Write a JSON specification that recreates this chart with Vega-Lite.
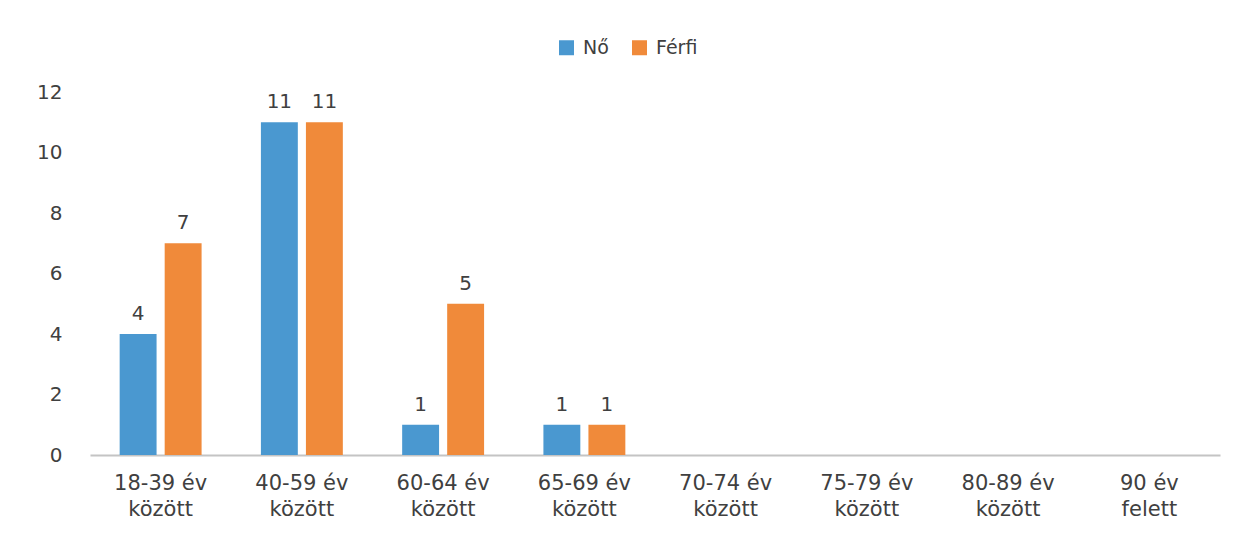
{
  "$schema": "https://vega.github.io/schema/vega-lite/v6.json",
  "autosize": {"type": "none"},
  "width": 1130,
  "height": 363,
  "padding": {"left": 90, "top": 92, "right": 30, "bottom": 79},
  "background": "#ffffff",
  "config": {"view": {"stroke": null}, "font": "DejaVu Sans"},
  "data": {
    "values": [
      {"kor": "18-39 év|között", "nem": "Nő", "db": 4},
      {"kor": "18-39 év|között", "nem": "Férfi", "db": 7},
      {"kor": "40-59 év|között", "nem": "Nő", "db": 11},
      {"kor": "40-59 év|között", "nem": "Férfi", "db": 11},
      {"kor": "60-64 év|között", "nem": "Nő", "db": 1},
      {"kor": "60-64 év|között", "nem": "Férfi", "db": 5},
      {"kor": "65-69 év|között", "nem": "Nő", "db": 1},
      {"kor": "65-69 év|között", "nem": "Férfi", "db": 1},
      {"kor": "70-74 év|között", "nem": "Nő", "db": null},
      {"kor": "70-74 év|között", "nem": "Férfi", "db": null},
      {"kor": "75-79 év|között", "nem": "Nő", "db": null},
      {"kor": "75-79 év|között", "nem": "Férfi", "db": null},
      {"kor": "80-89 év|között", "nem": "Nő", "db": null},
      {"kor": "80-89 év|között", "nem": "Férfi", "db": null},
      {"kor": "90 év|felett", "nem": "Nő", "db": null},
      {"kor": "90 év|felett", "nem": "Férfi", "db": null}
    ]
  },
  "encoding": {
    "x": {
      "field": "kor",
      "type": "nominal",
      "sort": null,
      "scale": {
        "domain": ["18-39 év|között", "40-59 év|között", "60-64 év|között", "65-69 év|között", "70-74 év|között", "75-79 év|között", "80-89 év|között", "90 év|felett"],
        "paddingInner": 0.42,
        "paddingOuter": 0.21
      },
      "axis": {
        "title": null,
        "labelAngle": 0,
        "labelExpr": "split(datum.value, '|')",
        "labelFont": "DejaVu Sans",
        "labelFontSize": 21,
        "labelColor": "#404040",
        "labelLineHeight": 26,
        "labelPadding": 17,
        "ticks": false,
        "domainColor": "#c4c4c4",
        "domainWidth": 2,
        "grid": false
      }
    },
    "xOffset": {
      "field": "nem",
      "type": "nominal",
      "sort": ["Nő", "Férfi"],
      "scale": {"domain": ["Nő", "Férfi"], "paddingInner": 0.18, "paddingOuter": 0}
    },
    "y": {
      "field": "db",
      "type": "quantitative",
      "scale": {"domain": [0, 12]},
      "axis": {
        "title": null,
        "values": [0, 2, 4, 6, 8, 10, 12],
        "domain": false,
        "ticks": false,
        "tickSize": 0,
        "grid": false,
        "labelAlign": "right",
        "labelPadding": 28,
        "labelFont": "DejaVu Sans",
        "labelFontSize": 20,
        "labelColor": "#404040"
      }
    }
  },
  "layer": [
    {
      "mark": {"type": "bar"},
      "encoding": {
        "color": {
          "field": "nem",
          "type": "nominal",
          "sort": ["Nő", "Férfi"],
          "scale": {"domain": ["Nő", "Férfi"], "range": ["#4a98d0", "#f08a3a"]},
          "legend": {
            "title": null,
            "orient": "none",
            "legendX": 467,
            "legendY": -54,
            "direction": "horizontal",
            "symbolType": "square",
            "symbolSize": 225,
            "symbolStrokeWidth": 0,
            "labelFont": "DejaVu Sans",
            "labelFontSize": 19,
            "labelColor": "#404040",
            "columnPadding": 21,
            "labelOffset": 7
          }
        }
      }
    },
    {
      "mark": {"type": "text", "baseline": "bottom", "dy": -10, "fontSize": 20, "color": "#404040", "font": "DejaVu Sans"},
      "encoding": {
        "text": {"field": "db", "type": "quantitative"}
      }
    }
  ]
}
